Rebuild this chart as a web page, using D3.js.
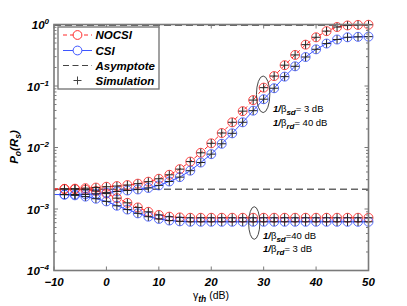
<!DOCTYPE html>
<html><head><meta charset="utf-8">
<script src="https://cdn.jsdelivr.net/npm/d3@7"></script>
<style>
html,body{margin:0;padding:0;background:#fff;}
svg{display:block;font-family:"Liberation Sans",Arial,sans-serif;}
</style></head>
<body><svg id="c" width="407" height="306"></svg>
<script>
// ---- data ----
const gammaDb = [-10,-8,-6,-4,-2,0,2,4,6,8,10,12,14,16,18,20,22,24,26,28,30,32,34,36,38,40,42,44,46,48,50];
// case A: 1/beta_sd = 3 dB, 1/beta_rd = 40 dB
const nocsiA = [2.12e-3,2.12e-3,2.14e-3,2.18e-3,2.23e-3,2.3e-3,2.36e-3,2.45e-3,2.58e-3,2.78e-3,3.1e-3,3.6e-3,4.45e-3,5.9e-3,8.2e-3,1.17e-2,1.72e-2,2.57e-2,3.9e-2,5.9e-2,9.4e-2,0.145,0.218,0.32,0.47,0.62,0.78,0.91,0.965,0.985,0.99];
const csiA   = [1.72e-3,1.72e-3,1.72e-3,1.73e-3,1.76e-3,1.84e-3,1.93e-3,2.0e-3,2.08e-3,2.2e-3,2.42e-3,2.8e-3,3.3e-3,4.2e-3,5.7e-3,7.8e-3,1.15e-2,1.7e-2,2.57e-2,3.97e-2,6.1e-2,9.2e-2,0.142,0.209,0.296,0.395,0.49,0.57,0.62,0.63,0.635];
// case B: 1/beta_sd = 40 dB, 1/beta_rd = 3 dB
const nocsiB = [2.12e-3,2.12e-3,2.1e-3,2.06e-3,1.97e-3,1.78e-3,1.5e-3,1.26e-3,1.06e-3,9.0e-4,8.0e-4,7.5e-4,7.3e-4,7.2e-4,7.2e-4,7.2e-4,7.2e-4,7.2e-4,7.2e-4,7.2e-4,7.2e-4,7.2e-4,7.2e-4,7.2e-4,7.2e-4,7.2e-4,7.2e-4,7.2e-4,7.2e-4,7.2e-4,7.2e-4];
const csiB   = [1.72e-3,1.71e-3,1.67e-3,1.59e-3,1.47e-3,1.33e-3,1.13e-3,9.8e-4,8.5e-4,7.5e-4,6.9e-4,6.5e-4,6.3e-4,6.2e-4,6.2e-4,6.2e-4,6.2e-4,6.2e-4,6.2e-4,6.2e-4,6.2e-4,6.2e-4,6.2e-4,6.2e-4,6.2e-4,6.2e-4,6.2e-4,6.2e-4,6.2e-4,6.2e-4,6.2e-4];
const asymptotes = [0.97, 2.1e-3];
const xTicks = [-10,0,10,20,30,40,50];
const yTickExp = [0,-1,-2,-3,-4];
const legendLabels = ["NOCSI","CSI","Asymptote","Simulation"];

// ---- layout ----
const svg = d3.select("#c");
const L=54, R=368.5, T=24.5, B=270.5;
const x = d3.scaleLinear().domain([-10,50]).range([L,R]);
const y = d3.scaleLog().domain([1e-4,1]).range([B,T]);
const axisCol = "#7a7a7a";
const red = "#ff2a2a", blue = "#3d55ff";

const plot = svg.append("g");
const clip = svg.append("clipPath").attr("id","pc").append("rect")
  .attr("x",L).attr("y",T).attr("width",R-L).attr("height",B-T);

// asymptotes
asymptotes.forEach(a=>{
  plot.append("line").attr("x1",L).attr("x2",R).attr("y1",y(a)).attr("y2",y(a))
    .attr("stroke","#666").attr("stroke-width",1.4).attr("stroke-dasharray","7,4");
});

const line = d3.line().x(d=>x(d[0])).y(d=>y(d[1]));
const series = [
  {v:nocsiA,c:red,dash:"4,3"},{v:csiA,c:blue,dash:null},
  {v:nocsiB,c:red,dash:"4,3"},{v:csiB,c:blue,dash:null}
];
series.forEach(s=>{
  const pts = gammaDb.map((g,i)=>[g,s.v[i]]);
  plot.append("path").attr("d",line(pts)).attr("fill","none")
    .attr("stroke",s.c).attr("stroke-width",1).attr("stroke-dasharray",s.dash)
    .attr("clip-path","url(#pc)");
});
series.forEach(s=>{
  const pts = gammaDb.map((g,i)=>[g,s.v[i]]).filter(d=>d[0]>=-8);
  plot.selectAll(null).data(pts).enter().append("circle")
    .attr("cx",d=>x(d[0])).attr("cy",d=>y(d[1])).attr("r",4.5)
    .attr("fill","none").attr("stroke",s.c).attr("stroke-width",1).attr("opacity",0.85);
});
// simulation '+' markers
series.forEach(s=>{
  const pts = gammaDb.map((g,i)=>[g,s.v[i]]).filter(d=>d[0]>=-8);
  plot.selectAll(null).data(pts).enter().append("path")
    .attr("d",d=>{const cx=x(d[0]),cy=y(d[1]),h=4.2;return `M${cx-h},${cy}H${cx+h}M${cx},${cy-h}V${cy+h}`;})
    .attr("stroke","#222").attr("stroke-width",1);
});

// ellipses
plot.append("ellipse").attr("cx",x(29.9)).attr("cy",94.3).attr("rx",6.7).attr("ry",18.3)
  .attr("fill","none").attr("stroke","#333").attr("stroke-width",0.9);
plot.append("ellipse").attr("cx",x(28.2)).attr("cy",223).attr("rx",5.6).attr("ry",16.3)
  .attr("fill","none").attr("stroke","#333").attr("stroke-width",0.9);

// axes box
svg.append("rect").attr("x",L).attr("y",T).attr("width",R-L).attr("height",B-T)
  .attr("fill","none").attr("stroke",axisCol).attr("stroke-width",1.6);

// x ticks (bottom and top, inward)
const ax = svg.append("g");
xTicks.forEach(t=>{
  ax.append("line").attr("x1",x(t)).attr("x2",x(t)).attr("y1",B).attr("y2",B-4).attr("stroke",axisCol);
  ax.append("line").attr("x1",x(t)).attr("x2",x(t)).attr("y1",T).attr("y2",T+4).attr("stroke",axisCol);
  ax.append("text").attr("x",x(t)).attr("y",286).attr("text-anchor","middle")
    .attr("font-size",11.5).attr("font-weight","bold").attr("font-style","italic").text(t<0?"\u2212"+(-t):t);
});
// y ticks log
for(let e=-4;e<=0;e++){
  for(let m=1;m<=9;m++){
    const v=m*Math.pow(10,e); if(v>1) break;
    const len = m===1?4:2.5;
    ax.append("line").attr("x1",L).attr("x2",L+len).attr("y1",y(v)).attr("y2",y(v)).attr("stroke",axisCol);
    ax.append("line").attr("x1",R).attr("x2",R-len).attr("y1",y(v)).attr("y2",y(v)).attr("stroke",axisCol);
  }
}
yTickExp.forEach(e=>{
  const t = ax.append("text").attr("x",49).attr("y",y(Math.pow(10,e))+4.5).attr("text-anchor","end")
    .attr("font-size",11.5).attr("font-weight","bold").attr("font-style","italic");
  t.append("tspan").text("10");
  t.append("tspan").attr("dy",-5).attr("font-size",8).text(e===0?"0":"\u2212"+(-e));
});

// axis labels
const xl = svg.append("text").attr("x",211).attr("y",299).attr("text-anchor","middle").attr("font-size",10.5);
xl.append("tspan").text("\u03b3");
xl.append("tspan").attr("dy",2.5).attr("font-size",8.5).attr("font-weight","bold").attr("font-style","italic").text("th");
xl.append("tspan").attr("dy",-2.5).text(" (dB)");

const yl = svg.append("text").attr("transform","translate(18,147) rotate(-90)").attr("text-anchor","middle")
  .attr("font-size",11.5).attr("font-weight","bold").attr("font-style","italic");
yl.append("tspan").text("P");
yl.append("tspan").attr("dy",3).attr("font-size",8.5).text("o");
yl.append("tspan").attr("dy",-3).text("(R");
yl.append("tspan").attr("dy",3).attr("font-size",8.5).text("s");
yl.append("tspan").attr("dy",-3).text(")");

// annotations
function annot(xp,yp,sub,val){
  const t = svg.append("text").attr("x",xp).attr("y",yp).attr("font-size",9.5);
  t.append("tspan").attr("font-weight","bold").attr("font-style","italic").text("1/");
  t.append("tspan").text("\u03b2");
  t.append("tspan").attr("dy",2.5).attr("font-size",8).attr("font-weight","bold").attr("font-style","italic").text(sub);
  t.append("tspan").attr("dy",-2.5).text(val);
}
annot(273,112,"sd","=  3 dB");
annot(273,126,"rd","= 40 dB");
annot(263,239,"sd","=40 dB");
annot(263,252,"rd","=  3 dB");

// legend
const lg = svg.append("g");
lg.append("rect").attr("x",58).attr("y",27).attr("width",101).attr("height",62)
  .attr("fill","#fff").attr("stroke",axisCol).attr("stroke-width",1.4);
const ly = [35,50.5,65.5,80.5];
legendLabels.forEach((lab,i)=>{
  const yy=ly[i];
  if(i===0){
    lg.append("line").attr("x1",63).attr("x2",92).attr("y1",yy).attr("y2",yy).attr("stroke",red).attr("stroke-dasharray","4,3");
    lg.append("circle").attr("cx",77.5).attr("cy",yy).attr("r",4.4).attr("fill","#fff").attr("stroke",red);
  } else if(i===1){
    lg.append("line").attr("x1",63).attr("x2",92).attr("y1",yy).attr("y2",yy).attr("stroke",blue);
    lg.append("circle").attr("cx",77.5).attr("cy",yy).attr("r",4.4).attr("fill","#fff").attr("stroke",blue);
  } else if(i===2){
    lg.append("line").attr("x1",63).attr("x2",92).attr("y1",yy).attr("y2",yy).attr("stroke","#444").attr("stroke-dasharray","6,3.5");
  } else {
    lg.append("path").attr("d",`M73.5,${yy}H81.5M77.5,${yy-4}V${yy+4}`).attr("stroke","#444");
  }
  lg.append("text").attr("x",95.5).attr("y",yy+4).attr("font-size",11.5)
    .attr("font-weight","bold").attr("font-style","italic").text(lab);
});
</script></body></html>
